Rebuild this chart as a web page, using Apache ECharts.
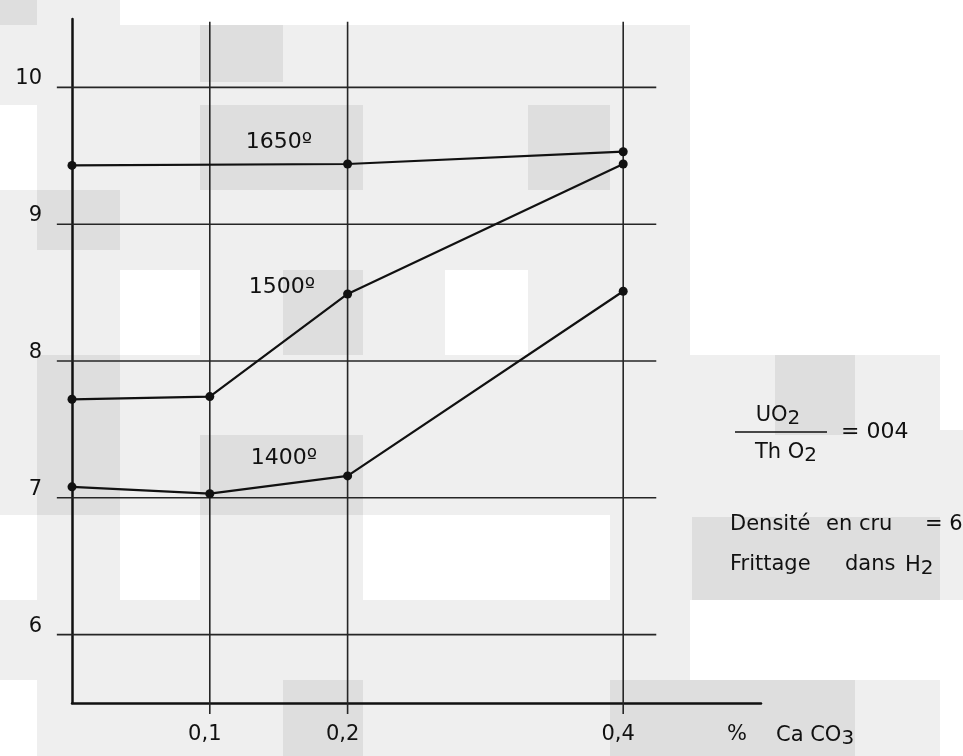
<!DOCTYPE html>
<html>
<head>
<meta charset="utf-8">
<script src="https://cdn.jsdelivr.net/npm/echarts@6/dist/echarts.min.js"></script>
<style>
    html, body { margin: 0; padding: 0; background: #efefef; }
    #container { width: 963px; height: 756px; }
</style>
</head>
<body>
<div id="container"></div>
<script>
"use strict";

// ticks
var xTicks = [0.1, 0.2, 0.4];
var xTickLabels = ['0,1', '0,2', '0,4'];
var yTicks = [6, 7, 8, 9, 10];
var yTickLabels = ['6', '7', '8', '9', '10'];

// series (x = % CaCO3, y = densité)
var x1650 = [0, 0.2, 0.4];
var y1650 = [9.43, 9.44, 9.53];
var x1500 = [0, 0.1, 0.2, 0.4];
var y1500 = [7.72, 7.74, 8.49, 9.44];
var x1400 = [0, 0.1, 0.2, 0.4];
var y1400 = [7.08, 7.03, 7.16, 8.51];

var FONT = 'DejaVu Sans';
var INK = '#111';

function pairs(xs, ys) {
    return xs.map(function (x, i) { return [x, ys[i]]; });
}

// hand drawn grid: horizontal lines stop short of the axis end, verticals stick out below
var gridLines = [];
yTicks.forEach(function (y) { gridLines.push([-0.011, y, 0.424, y]); });
xTicks.forEach(function (x) { gridLines.push([x, 10.48, x, 5.42]); });

// scan blocks in the background
var patches = [
    [0, 0, 37, 25, '#dedede'], [120, 0, 475, 25, '#ffffff'], [595, 0, 368, 25, '#ffffff'],
    [200, 25, 83, 57, '#dedede'],
    [0, 105, 37, 85, '#ffffff'], [200, 105, 163, 85, '#dedede'], [528, 105, 82, 85, '#dedede'],
    [37, 190, 83, 60, '#dedede'],
    [690, 0, 273, 355, '#ffffff'],
    [120, 270, 80, 85, '#ffffff'], [283, 270, 80, 85, '#dedede'], [445, 270, 83, 85, '#ffffff'],
    [37, 355, 83, 160, '#dedede'], [775, 355, 80, 80, '#dedede'], [940, 355, 23, 75, '#ffffff'],
    [200, 435, 163, 80, '#dedede'],
    [0, 515, 37, 85, '#ffffff'], [120, 515, 80, 85, '#ffffff'], [363, 515, 247, 85, '#ffffff'],
    [692, 517, 248, 83, '#dedede'],
    [690, 600, 273, 80, '#ffffff'],
    [0, 680, 37, 76, '#ffffff'], [283, 680, 80, 76, '#dedede'], [610, 680, 245, 76, '#dedede'],
    [940, 680, 23, 76, '#ffffff']
];

var graphics = patches.map(function (p) {
    return {
        type: 'rect', z: -10, silent: true,
        shape: { x: p[0], y: p[1], width: p[2], height: p[3] },
        style: { fill: p[4] }
    };
});

function txt(x, y, text, align, size, rich) {
    var style = {
        text: text, x: x, y: y, fill: INK,
        font: (size || 21) + 'px "' + FONT + '"',
        align: align || 'left', verticalAlign: 'middle'
    };
    if (rich) { style.rich = rich; }
    return { type: 'text', z: 10, silent: true, style: style };
}

var subRich = {
    a: { fontSize: 21, fontFamily: FONT, color: INK, lineHeight: 24, verticalAlign: 'top' },
    s: { fontSize: 20, fontFamily: FONT, color: INK, lineHeight: 24, verticalAlign: 'bottom', padding: [8, 0, 0, 0] }
};

graphics.push(txt(279, 142, '1650º', 'center', 22));
graphics.push(txt(282, 287, '1500º', 'center', 22));
graphics.push(txt(284, 458, '1400º', 'center', 22));

graphics.push(txt(778, 417, '{a|UO}{s|2}', 'center', 21, subRich));
graphics.push({
    type: 'line', z: 10, silent: true,
    shape: { x1: 735, y1: 432, x2: 827, y2: 432 },
    style: { stroke: INK, lineWidth: 1.5 }
});
graphics.push(txt(786, 454, '{a|Th O}{s|2}', 'center', 21, subRich));
graphics.push(txt(841, 432, '= 004', 'left', 22));
graphics.push(txt(730, 525, 'Densité', 'left'));
graphics.push(txt(826, 525, 'en cru', 'left'));
graphics.push(txt(925, 525, '= 6', 'left'));
graphics.push(txt(730, 565, 'Frittage', 'left'));
graphics.push(txt(845, 565, 'dans', 'left'));
graphics.push(txt(905, 567, '{a|H}{s|2}', 'left', 21, subRich));
graphics.push(txt(737, 735, '%', 'center'));
graphics.push(txt(776, 737, '{a|Ca CO}{s|3}', 'left', 21, subRich));

var dom = document.getElementById('container');
var myChart = echarts.init(dom);

var lineStyle = { color: INK, width: 2.2 };
var itemStyle = { color: INK };

var option = {
    backgroundColor: '#efefef',
    animation: false,
    grid: { left: 72, right: 202, top: 19, bottom: 53 },
    xAxis: {
        type: 'value',
        min: 0,
        max: 0.5,
        interval: 0.1,
        axisLine: { show: true, onZero: false, lineStyle: { color: INK, width: 2.5 } },
        axisTick: { show: false },
        splitLine: { show: false },
        axisLabel: {
            margin: 21,
            padding: [0, 10, 0, 0],
            fontFamily: FONT,
            fontSize: 21,
            color: INK,
            formatter: function (v) {
                var i = xTicks.indexOf(Math.round(v * 10) / 10);
                return i >= 0 ? xTickLabels[i] : '';
            }
        }
    },
    yAxis: {
        type: 'value',
        min: 5.5,
        max: 10.5,
        interval: 0.5,
        axisLine: { show: true, onZero: false, lineStyle: { color: INK, width: 2.5 } },
        axisTick: { show: false },
        splitLine: { show: false },
        axisLabel: {
            margin: 30,
            verticalAlign: 'bottom',
            lineHeight: 17,
            fontFamily: FONT,
            fontSize: 21,
            color: INK,
            formatter: function (v) {
                var i = yTicks.indexOf(v);
                return i >= 0 ? yTickLabels[i] : '';
            }
        }
    },
    graphic: graphics,
    series: [
        {
            type: 'custom',
            clip: false,
            silent: true,
            encode: { x: [0, 2], y: [1, 3] },
            data: gridLines,
            renderItem: function (params, api) {
                var p1 = api.coord([api.value(0), api.value(1)]);
                var p2 = api.coord([api.value(2), api.value(3)]);
                return {
                    type: 'line',
                    shape: { x1: p1[0], y1: p1[1], x2: p2[0], y2: p2[1] },
                    style: { stroke: '#262626', lineWidth: 1.6 }
                };
            }
        },
        {
            name: '1650º', type: 'line', data: pairs(x1650, y1650),
            symbol: 'circle', symbolSize: 9, lineStyle: lineStyle, itemStyle: itemStyle
        },
        {
            name: '1500º', type: 'line', data: pairs(x1500, y1500),
            symbol: 'circle', symbolSize: 9, lineStyle: lineStyle, itemStyle: itemStyle
        },
        {
            name: '1400º', type: 'line', data: pairs(x1400, y1400),
            symbol: 'circle', symbolSize: 9, lineStyle: lineStyle, itemStyle: itemStyle
        }
    ]
};

if (option && typeof option === 'object') {
    myChart.setOption(option);
}
</script>
</body>
</html>
